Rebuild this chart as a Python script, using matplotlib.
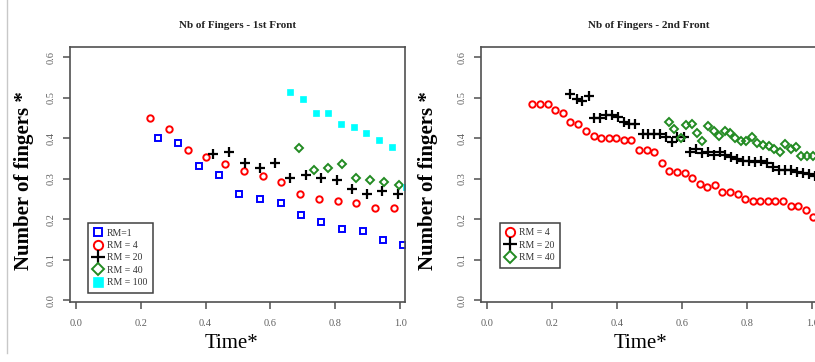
import numpy as np
import matplotlib
matplotlib.use("Agg")
import matplotlib.pyplot as plt
from matplotlib.lines import Line2D

plt.rcParams['font.family'] = ['Liberation Serif', 'DejaVu Serif']

# ---- 1st front ----
f1_rm1_t = [0.252, 0.315, 0.379, 0.441, 0.504, 0.568, 0.632, 0.694, 0.757, 0.821, 0.885, 0.948, 1.010]
f1_rm1_n = [0.400, 0.389, 0.332, 0.309, 0.262, 0.251, 0.239, 0.211, 0.194, 0.177, 0.171, 0.148, 0.137]
f1_rm4_t = [0.229, 0.287, 0.345, 0.402, 0.461, 0.519, 0.576, 0.633, 0.691, 0.749, 0.807, 0.865, 0.923, 0.981]
f1_rm4_n = [0.451, 0.423, 0.371, 0.354, 0.336, 0.320, 0.308, 0.291, 0.262, 0.251, 0.246, 0.239, 0.228, 0.228]
f1_rm20_t = [0.423, 0.471, 0.521, 0.567, 0.615, 0.661, 0.710, 0.757, 0.805, 0.852, 0.898, 0.945, 0.993]
f1_rm20_n = [0.360, 0.365, 0.338, 0.326, 0.338, 0.303, 0.309, 0.303, 0.297, 0.275, 0.263, 0.269, 0.263]
f1_rm40_t = [0.689, 0.735, 0.777, 0.821, 0.863, 0.907, 0.951, 0.995]
f1_rm40_n = [0.377, 0.321, 0.326, 0.337, 0.303, 0.298, 0.292, 0.285]
f1_rm100_t = [0.661, 0.702, 0.741, 0.779, 0.819, 0.858, 0.896, 0.936, 0.974, 1.018]
f1_rm100_n = [0.514, 0.497, 0.463, 0.463, 0.435, 0.428, 0.412, 0.395, 0.378, 0.280]

# ---- 2nd front ----
f2_rm4_t = [0.139, 0.164, 0.188, 0.211, 0.234, 0.257, 0.281, 0.305, 0.328, 0.351,
            0.374, 0.398, 0.422, 0.444, 0.468, 0.491, 0.514, 0.537, 0.561, 0.585,
            0.608, 0.631, 0.654, 0.678, 0.702, 0.724, 0.748, 0.771, 0.794, 0.817,
            0.841, 0.865, 0.887, 0.911, 0.934, 0.958, 0.980, 1.002]
f2_rm4_n = [0.485, 0.485, 0.485, 0.469, 0.463, 0.440, 0.434, 0.417, 0.405, 0.400,
            0.400, 0.400, 0.395, 0.395, 0.372, 0.372, 0.366, 0.338, 0.319, 0.317,
            0.315, 0.303, 0.287, 0.280, 0.285, 0.268, 0.268, 0.262, 0.251, 0.245,
            0.245, 0.245, 0.245, 0.245, 0.234, 0.234, 0.222, 0.205]
f2_rm20_t = [0.256, 0.277, 0.294, 0.313, 0.330, 0.348, 0.366, 0.385, 0.404, 0.422,
             0.438, 0.456, 0.479, 0.496, 0.514, 0.533, 0.551, 0.569, 0.584, 0.605,
             0.626, 0.644, 0.662, 0.679, 0.697, 0.716, 0.733, 0.751, 0.769, 0.788,
             0.806, 0.825, 0.843, 0.862, 0.880, 0.898, 0.917, 0.935, 0.954, 0.972,
             0.991, 1.009]
f2_rm20_n = [0.509, 0.497, 0.491, 0.503, 0.450, 0.450, 0.457, 0.457, 0.452, 0.441,
             0.434, 0.434, 0.410, 0.410, 0.410, 0.410, 0.404, 0.390, 0.402, 0.402,
             0.367, 0.373, 0.363, 0.367, 0.359, 0.367, 0.359, 0.354, 0.348, 0.345,
             0.345, 0.342, 0.345, 0.340, 0.328, 0.322, 0.322, 0.322, 0.317, 0.315,
             0.312, 0.307]
f2_rm40_t = [0.561, 0.576, 0.597, 0.612, 0.630, 0.646, 0.662, 0.680, 0.698, 0.714,
             0.731, 0.747, 0.764, 0.782, 0.798, 0.814, 0.831, 0.848, 0.866, 0.883,
             0.900, 0.917, 0.934, 0.951, 0.967, 0.985, 1.002]
f2_rm40_n = [0.439, 0.423, 0.401, 0.433, 0.435, 0.412, 0.394, 0.430, 0.418, 0.406,
             0.418, 0.412, 0.401, 0.394, 0.394, 0.402, 0.389, 0.384, 0.382, 0.373,
             0.366, 0.385, 0.373, 0.378, 0.356, 0.356, 0.356]

xticks = [0.0, 0.2, 0.4, 0.6, 0.8, 1.0]
yticks = [0.0, 0.1, 0.2, 0.3, 0.4, 0.5, 0.6]

# marker styles (R pch 0, 1, 3, 5, 15)
sty = {
    'rm1': dict(marker='s', ms=4.3, mfc='none', mec='#0000ff', mew=1.4, ls='none'),
    'rm4': dict(marker='o', ms=4.6, mfc='none', mec='#ff0000', mew=1.4, ls='none'),
    'rm20': dict(marker='+', ms=7, mec='black', mew=1.6, ls='none'),
    'rm40': dict(marker='D', ms=4.3, mfc='none', mec='#228b22', mew=1.4, ls='none'),
    'rm100': dict(marker='s', ms=5, mfc='#00ffff', mec='#00ffff', mew=0.5, ls='none'),
}

fig = plt.figure(figsize=(8.15, 3.62), dpi=100)
W, H = 815, 362
ax1 = fig.add_axes([70 / W, 1 - 302 / H, 335 / W, 255 / H])
ax2 = fig.add_axes([481 / W, 1 - 302 / H, 336 / W, 255 / H])

ax1.plot(f1_rm1_t, f1_rm1_n, label='RM=1', **sty['rm1'])
ax1.plot(f1_rm4_t, f1_rm4_n, label='RM = 4', **sty['rm4'])
ax1.plot(f1_rm20_t, f1_rm20_n, label='RM = 20', **sty['rm20'])
ax1.plot(f1_rm40_t, f1_rm40_n, label='RM = 40', **sty['rm40'])
ax1.plot(f1_rm100_t, f1_rm100_n, label='RM = 100', **sty['rm100'])

ax2.plot(f2_rm4_t, f2_rm4_n, label='RM = 4', **sty['rm4'])
ax2.plot(f2_rm20_t, f2_rm20_n, label='RM = 20', **sty['rm20'])
ax2.plot(f2_rm40_t, f2_rm40_n, label='RM = 40', **sty['rm40'])

titles = ['Nb of Fingers - 1st Front', 'Nb of Fingers - 2nd Front']
for ax, title in zip([ax1, ax2], titles):
    ax.set_xlim(-0.018, 1.015)
    ax.set_ylim(-0.004, 0.625)
    ax.set_xticks(xticks)
    ax.set_yticks(yticks)
    ax.set_xticklabels([f'{v:.1f}' for v in xticks])
    ax.set_yticklabels([f'{v:.1f}' for v in yticks])
    ax.tick_params(axis='both', direction='out', length=5, width=1.1, color='#505050',
                   labelsize=7.5, labelcolor='#606060')
    ax.tick_params(axis='x', pad=7)
    ax.tick_params(axis='y', pad=5, labelrotation=90)
    plt.setp(ax.get_yticklabels(), va='center')
    for sp in ax.spines.values():
        sp.set_color('#505050')
        sp.set_linewidth(1.2)
    ax.set_title(title, fontsize=8, fontweight='bold', pad=14, color='#222222')
    ax.set_ylabel('Number of fingers *', fontsize=15, fontweight='bold')
    ax.set_xlabel('Time*', fontsize=15)

ax1.yaxis.set_label_coords(-0.107, 0.478)
ax2.yaxis.set_label_coords(-0.127, 0.478)
ax1.xaxis.set_label_coords(0.482, -0.125)
ax2.xaxis.set_label_coords(0.475, -0.125)

leg_kw = dict(loc='lower left', fontsize=7, frameon=True, fancybox=False,
              framealpha=1, edgecolor='#404040', markerscale=1.45,
              handlelength=0.9, handletextpad=0.4, borderpad=0.6,
              labelspacing=0.35, borderaxespad=0)
lg1 = ax1.legend(bbox_to_anchor=(0.054, 0.035), **leg_kw)
lg2 = ax2.legend(bbox_to_anchor=(0.057, 0.133), **leg_kw)
for lg in (lg1, lg2):
    lg.get_frame().set_linewidth(1.1)
    for t in lg.get_texts():
        t.set_color('#333333')

# thin grey rule on the far left of the picture
fig.add_artist(Line2D([7 / W, 7 / W], [1, 1 - 353 / H], color='#c8c8c8', lw=1))

fig.savefig('out.png', dpi=100)
